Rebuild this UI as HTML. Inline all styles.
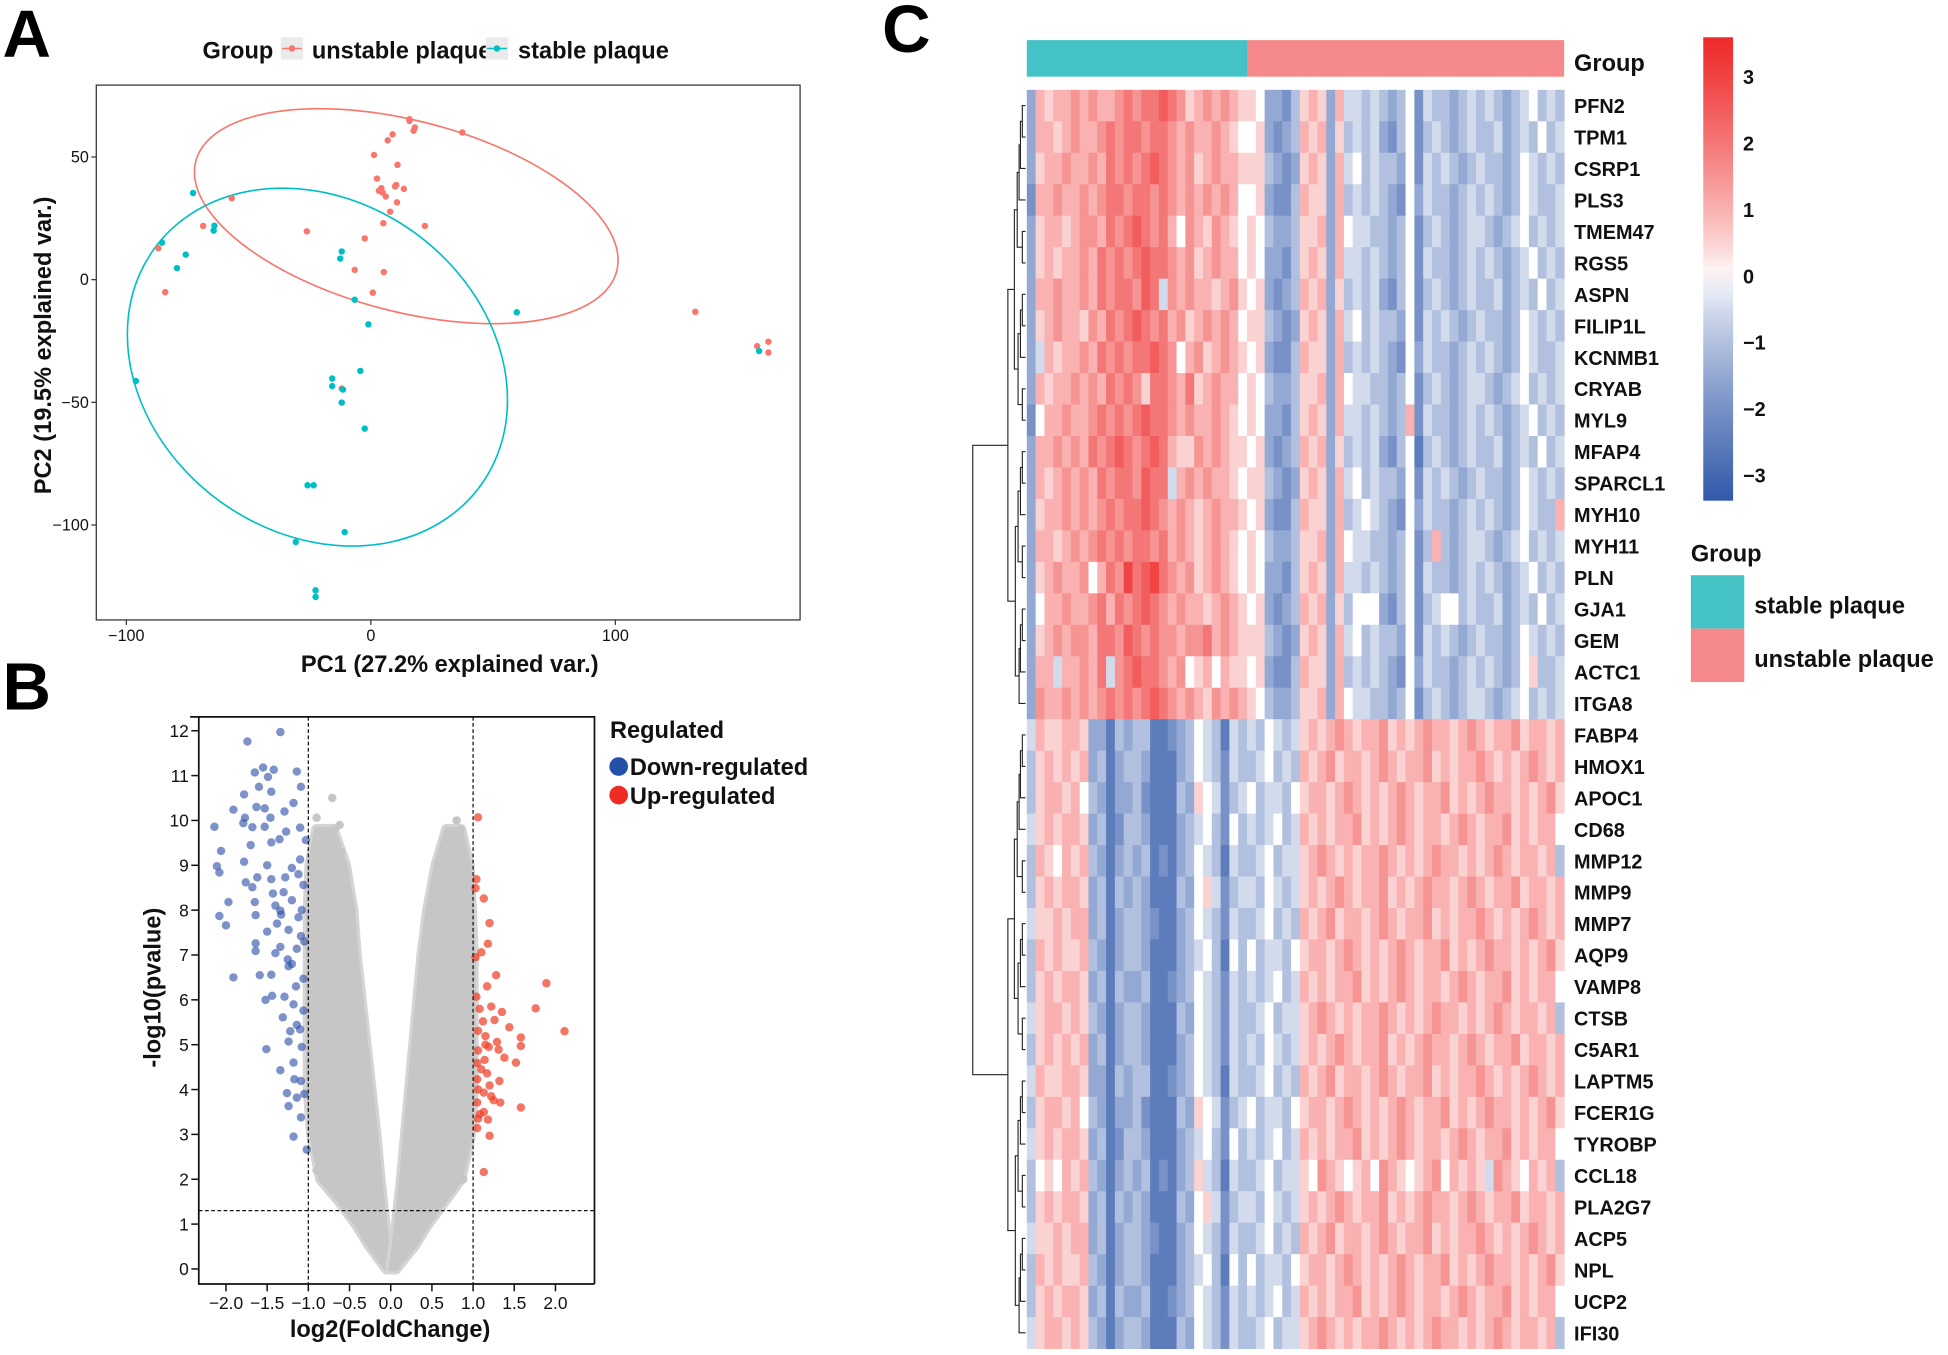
<!DOCTYPE html>
<html><head><meta charset="utf-8">
<style>
html,body{margin:0;padding:0;background:#fff;}
body{width:1948px;height:1349px;overflow:hidden;position:relative;}
#wrap{position:absolute;left:0;top:0;width:1568px;height:1086px;transform:scale(1.24235);transform-origin:0 0;}
svg text{font-family:"Liberation Sans",Arial,sans-serif;}
.nar{font-family:"Liberation Sans Narrow","Liberation Sans",Arial,sans-serif;}
</style></head>
<body>
<div id="wrap">
<svg id="fig" width="1568" height="1086" viewBox="0 0 1568 1086" xmlns="http://www.w3.org/2000/svg">
<text x="2" y="46" font-size="54" font-weight="bold">A</text>
<text x="2" y="571" font-size="54" font-weight="bold">B</text>
<text x="710" y="42" font-size="54" font-weight="bold">C</text>
<g id="pca"></g>
<g id="volc"></g>
<g id="heat"></g>
</svg>
</div>
<script>
// ---------- Panel A data ----------
const unstableX=[15.8,15.8,18,17.5,37.4,8.9,6.9,1.3,10.9,2.5,10.4,9.9,4.3,3.3,4.8,13.5,6.1,10.7,7.9,5.1,22.1,-56.9,-68.6,-26.2,-2.5,-86.9,-6.6,5.3,-84.1,0.8,132.7,158,162.6,162.6,-11.9];
const unstableY=[65.4,64.7,62,60.7,60,59.2,56.8,50.8,46.8,41.2,38.6,38,37.3,36.2,35.5,37,33.9,31.5,27.7,23,21.9,33.2,21.9,19.7,16.8,12.8,4,3.1,-5.1,-5.3,-13.1,-27.1,-25.3,-29.7,-44.4];
const stableX=[-72.7,-64,-64.3,-85.4,-75.7,-79.3,-11.9,-12.5,-6.6,59.7,-1,-4.3,-15.8,-15.8,-11.4,-11.9,-2.5,-96.1,-25.9,-23.4,-10.7,-30.7,-22.6,-22.6,158.8];
const stableY=[35.3,22,20,15.1,10.2,4.7,11.5,8.6,-8.2,-13.3,-18.2,-37.2,-40.3,-43.4,-44.8,-50.1,-60.7,-41.3,-83.8,-83.8,-102.9,-106.9,-126.6,-129.3,-29.1];
const pcaXTicks=[-100,0,100];
const pcaYTicks=[50,0,-50,-100];
// ---------- Panel B data ----------
const downX=[-1.34,-1.74,-1.55,-1.65,-1.42,-1.14,-1.49,-1.6,-1.09,-1.78,-1.45,-1.18,-1.63,-1.53,-1.91,-1.29,-1.46,-1.77,-2.14,-1.79,-1.68,-1.53,-1.27,-1.1,-1.03,-1.45,-1.7,-2.06,-1.35,-1.78,-1.5,-2.11,-2.08,-1.62,-1.45,-1.28,-1.2,-1.1,-1.06,-1.76,-1.68,-1.97,-1.43,-1.2,-1.65,-1.34,-1.12,-2.08,-2.0,-1.64,-1.5,-1.24,-1.09,-1.64,-1.34,-1.14,-1.64,-1.4,-1.91,-1.59,-1.45,-1.24,-1.06,-1.44,-1.52,-1.29,-1.18,-1.06,-1.31,-1.14,-1.22,-1.1,-1.24,-1.51,-1.08,-1.18,-1.34,-1.09,-1.17,-1.26,-1.14,-1.05,-1.24,-1.09,-1.18,-1.02,-1.3,-1.38,-1.12,-1.25,-1.4,-1.05,-1.15,-1.33,-1.2,-1.08];
const downY=[11.97,11.76,11.18,11.07,11.13,11.09,10.97,10.75,10.75,10.58,10.64,10.39,10.3,10.27,10.24,10.2,10.06,10.06,9.86,9.94,9.85,9.86,9.75,9.84,9.56,9.51,9.45,9.32,9.58,9.08,9.0,8.98,8.84,8.73,8.69,8.73,8.94,9.13,8.56,8.62,8.51,8.18,8.37,8.22,8.18,7.99,7.84,7.87,7.66,7.89,7.52,7.56,7.42,7.26,7.18,7.14,7.09,7.04,6.5,6.55,6.56,6.75,6.47,6.09,6.0,6.07,5.9,5.76,5.61,5.44,5.3,5.34,5.07,4.9,4.95,4.6,4.43,4.19,4.23,3.92,3.82,3.9,3.63,3.38,2.95,2.66,8.4,7.7,8.8,6.9,8.1,7.3,6.3,7.9,6.8,8.0];
const upX=[1.06,1.04,1.03,1.13,1.2,1.18,1.1,1.03,1.28,1.17,1.89,1.04,1.08,1.22,1.35,1.76,1.26,1.12,1.44,1.06,1.15,1.29,1.58,2.11,1.58,1.19,1.06,1.31,1.38,1.14,1.05,1.52,1.17,1.05,1.32,1.2,1.06,1.13,1.25,1.05,1.33,1.58,1.13,1.06,1.18,1.05,1.2,1.13,1.1,1.22,1.08,1.15];
const upY=[10.07,8.69,8.49,8.26,7.71,7.25,7.06,6.95,6.55,6.3,6.37,6.07,5.8,5.85,5.73,5.81,5.55,5.52,5.39,5.31,5.19,5.06,5.16,5.3,4.97,4.95,4.87,4.89,4.71,4.66,4.59,4.6,4.36,4.23,4.19,4.09,4.0,3.93,3.76,3.71,3.71,3.6,3.5,3.35,3.33,3.14,2.97,2.16,4.45,3.85,3.45,5.0];
const grayX=[-0.71,-0.9,0.8,0.85,0.7,-0.67,-0.8,-0.6,0.75,0.9,-0.55,0.6,-0.85,0.95,-0.5,0.55,-0.95,0.92,-0.45,0.5,-0.62,0.72,-0.9,0.88,-0.58,0.62];
const grayY=[10.5,10.06,10.0,9.8,9.7,9.82,9.5,9.3,9.2,9.0,8.8,8.5,8.9,8.3,8.0,7.6,9.1,7.9,7.2,6.8,9.9,9.4,2.2,2.0,1.6,1.5];
// envelope of the dense grey cloud (log2FC at given -log10 p)
const envY=[0,0.5,1,1.5,2,3,4,5,6,7,8,9,9.8];
const leftOuter=[-0.05,-0.25,-0.42,-0.62,-0.85,-0.96,-1.0,-1.0,-1.0,-1.0,-1.0,-0.98,-0.9];
const leftInner=[0,-0.04,-0.07,-0.1,-0.13,-0.18,-0.24,-0.3,-0.36,-0.42,-0.46,-0.55,-0.7];
const rightOuter=[0.06,0.28,0.45,0.65,0.85,0.97,1.0,1.0,1.0,1.0,0.98,0.95,0.85];
const rightInner=[0,0.04,0.07,0.1,0.13,0.18,0.23,0.28,0.33,0.38,0.45,0.55,0.68];
const volcXTicks=[-2.0,-1.5,-1.0,-0.5,0.0,0.5,1.0,1.5,2.0];
const volcXTickLabels=["\u22122.0","\u22121.5","\u22121.0","\u22120.5","0.0","0.5","1.0","1.5","2.0"];
const volcYTicks=[0,1,2,3,4,5,6,7,8,9,10,11,12];
// ---------- Panel C data ----------
const genes=["PFN2","TPM1","CSRP1","PLS3","TMEM47","RGS5","ASPN","FILIP1L","KCNMB1","CRYAB","MYL9","MFAP4","SPARCL1","MYH10","MYH11","PLN","GJA1","GEM","ACTC1","ITGA8","FABP4","HMOX1","APOC1","CD68","MMP12","MMP9","MMP7","AQP9","VAMP8","CTSB","C5AR1","LAPTM5","FCER1G","TYROBP","CCL18","PLA2G7","ACP5","NPL","UCP2","IFI30"];
const nStable=25, nUnstable=36;
// level codes: A=-3 ... G=0 ... M=+3 (steps of 0.5)
const rowsStable=[
"EIHIIJIJIIJKJKKLKJHIJIJIH","EIIHIJIIJKJKKJKKJIJIIJIHG","EHIIJIIJIKJKJKLKJIJHIJIIH","DIIJIIJIJKKJKKJKJIJIJIJIG",
"EHIIHIJJIKJKLKJKIGJIHJIHG","EHIHIIJIKJKJKLKKJIJHIJIIG","EIIJIIJIKJKKJLKFJIJIIHIJH","EHIJIIHJIKJKLKJKIJHIJIJIG",
"EFIHIIJIKJKJKKLKJGIJHIJIH","EIHIIJIJIKJKJHKKJIKHIJIIG","DGIIJIIJKJKJKLKKJIJIIJIHG","EIIJIJIKJKLKJKLKIHHJIJIHH",
"EIHIJIJIKJKKJLKKFIJIJIIHG","EHIIJIJIJKJKKLKJIJIHIJIIH","EIIHIJIJKJKJKKJKIJIHIJIHG","EHIJIIJGIKJMKLMKJIJHIJIHG",
"EGIIJIIJKIKJKLKJIJIIHIJIH","EHIJIJJIKKJLKJKJJIJJKIJIH","EIIFIIJIKFJKLKKJIJGHIGIHH","EJIIJIJIJKJKJKLKJIJIHJIJI",
"FIHHIIHDDBEDEEBBCDEGFEBFE","EHIHIHIDEBDEEDBBBDEGFECFE","EHIIHIGEDBDDECBBBEDHGFCEF","FHIHIIHDEBCEEDBBBDEFGECGE",
"EIHGIHIEDBDEDEBCBDEGFEBFE","EHIHIIHDEBEDEDBBBEDGHFCEF","FHHIHIIDEBDEEDCBBDEGFECFE","EIHIHHIEDBDEEDBBBDEFGEBGE",
"EHIHIIHDEBEDDEBBCDEGFECFE","FHIIHIHEDBDEEDBBBEDGFECFE","EHIHIHIDEBDEEDBBBDEGFECFE","FIHHIIHDDBEDEEBBCDEGFEBFE",
"EHIIHIGEDBDDECBBBEDHGFCEF","FHIHIIHDEBCEEDBBBDEFGECGE","EGHGIHIEDBDEDEBCBDEHFEBFE","EHIHIIHDEBEDEDBBBEDGHFCEF",
"FHHIHIIDEBDEEDCBBDEGFECFE","EIHIHHIEDBDEEDBBBDEFGEBGE","EHIHIIHDEBEDDEBBCDEGFECFE","FHIIHIHEDBDEEDBBBEDGFECFE"];
const rowsUnstable=[
"HGDDCEHIHDIFFEFEDEGCFEEDEFEFEDEFGEFE","GHDCDEIHIDHEFEFDCEGCEFEDEFEEFDEFEGEF","HHEDCDHIHDIFGEFEEDGCFEFEDEFEEDEGFEFE","GHDCCEIHHDIEFEFEDCGDFEEDEFEFEDEGFEEF",
"HGEDDEHHIDIGFFEEDEGCEFEDEFFEDEFGEFEF","HGDDCEHIHDIFFEFEDEGCFEEDEFEFEDEFGEFE","GHDCDEIHIDHEFEFDCEGCEFEDEFEEFDEFEGEF","HHEDCDHIHDIFGEFEEDGCFEFEDEFEEDEGFEFE",
"GHDCCEIHHDIEFEFEDCGDFEEDEFEFEDEGFEEF","HGEDDEHHIDIGFFEEDEGCEFEDEFFEDEFGEFEF","HGDDCEHIHDIFFEFEDEICFEEDEFEFEDEFGEFE","GHDCDEIHIDHEFEFDCEGBEFEDEFEEFDEFEGEF",
"HHEDCDHIHDIFGEFEEDGCFEFEDEFEEDEGFEFE","GHDCCEIHHDIEFGFEDCGDFEEDEFEFEDEGFEEI","HGEDDEHHIDIGFFEEDEGCEIEDEFFEDEFGEFEF","HGDDCEHIHDIFFEFEDEGCFEEDEFEFEDEFGEFE",
"GHDCDEIHIDHEGGGDCEGCEFGGEFEEFDEFEGEF","HHEDCDHIHDIFGEFEEDGCFEFEDEFEEDEGFEFE","GHDCCEIHHDIEFEFEDCGDFEEDEFEFEDEGHEEF","HGEDDEHHIDIGFFEEDEGCEFEDEFFEDEFGEFEF",
"FEGFEFHIHIJIHIIJHIHIJIIHIJIHIIJHIIHI","EFGEFEIHIJHIIHIJIHIIJHIHIIJIHIHIJIHI","GEFFEGHIIHIJIHIHIJIHIIJHIHIJIIHIHIJH","FEFGEFIHIHIIJHIHIJIHIIHIJIHIIJHIHIIG",
"EFGEFFHIJIHIHIIJIHIHIJIIHIHIJIHIIHIE","FEGFEFHIHIJIHIIJHIHIJIIHIJIHIIJHIIHI","EFGEFEIHIJHIIHIJIHIIJHIHIIJIHIHIJIHI","GEFFEGHIIHIJIHIHIJIHIIJHIHIJIIHIHIJH",
"FEFGEFIHIHIIJHIHIJIHIIHIJIHIIJHIHIIG","EFGEFFHIJIHIHIIJIHIHIJIIHIHIJIHIIHIE","FEGFEFHIHIJIHIIJHIHIJIIHIJIHIIJHIIHI","EFGEFEIHIJHIIHIJIHIIJHIHIIJIHIHIJIHI",
"GEFFEGHIIHIJIHIHIJIHIIJHIHIJIIHIHIJH","FEFGEFIHIHIIJHIHIJIHIIHIJIHIIJHIHIIG","EFGEFFHGJIHGHIGJIHGHIJGIHIHFJIHGIHIE","FEGFEFHIHIJIHIIJHIHIJIIHIJIHIIJHIIHI",
"EFGEFEIHIJHIIHIJIHIIJHIHIIJIHIHIJIHI","GEFFEGHIIHIJIHIHIJIHIIJHIHIJIIHIHIJH","FEFGEFIHIHIIJHIHIJIHIIHIJIHIIJHIHIIG","EFGEFFHIJIHIHIIJIHIHIJIIHIHIJIHIIHIE"];
const cbTicks=[3,2,1,0,-1,-2,-3];
const cbTickLabels=["3","2","1","0","\u22121","\u22122","\u22123"];

const NS="http://www.w3.org/2000/svg";
function mk(tag,attrs,parent){const e=document.createElementNS(NS,tag);for(const k in attrs)e.setAttribute(k,attrs[k]);parent.appendChild(e);return e;}

// ===== Panel A =====
(function(){
const g=document.getElementById('pca');
const xA=v=>298.5+v*1.968, yA=v=>225.1-v*1.975;
const L=77.5,R=644,T=68.5,B=499;
let r=mk('rect',{x:L,y:T,width:R-L,height:B-T,fill:'#fff',stroke:'#333','stroke-width':1},g);

pcaXTicks.forEach(t=>{let l=mk('line',{x1:xA(t),x2:xA(t),y1:B,y2:B+4,stroke:'#333'},g);

let tx=mk('text',{x:xA(t),y:B+17,'font-size':13,'text-anchor':'middle',class:'nar',fill:'#111'},g);tx.textContent=t===0?'0':(t<0?'\u2212'+(-t):t);
});
pcaYTicks.forEach(t=>{let l=mk('line',{x1:L-4,x2:L,y1:yA(t),y2:yA(t),stroke:'#333'},g);

let tx=mk('text',{x:L-6,y:yA(t)+4.5,'font-size':13,'text-anchor':'end',class:'nar',fill:'#111'},g);tx.textContent=t===0?'0':(t<0?'\u2212'+(-t):t);
});
let e1=mk('ellipse',{cx:0,cy:0,rx:1,ry:1,fill:'none',stroke:'#F8766D','stroke-width':1.3,'vector-effect':'non-scaling-stroke',transform:'matrix(170.5,35.5,0,78.9,327,174)'},g);

let e2=mk('ellipse',{cx:0,cy:0,rx:1,ry:1,fill:'none',stroke:'#00BFC4','stroke-width':1.3,'vector-effect':'non-scaling-stroke',transform:'matrix(153,26.4,0,141.6,255.5,295.5)'},g);

unstableX.forEach((v,i)=>{let c=mk('circle',{cx:xA(v),cy:yA(unstableY[i]),r:2.6,fill:'#F8766D'},g);
});
stableX.forEach((v,i)=>{let c=mk('circle',{cx:xA(v),cy:yA(stableY[i]),r:2.6,fill:'#00BFC4'},g);
});
let xt=mk('text',{x:362,y:541,'font-size':19,'font-weight':'bold','text-anchor':'middle',class:'nar',fill:'#111'},g);xt.textContent='PC1 (27.2% explained var.)';

let yt=mk('text',{x:0,y:0,'font-size':19,'font-weight':'bold','text-anchor':'middle',fill:'#111',transform:'translate(41,278) rotate(-90)'},g);yt.textContent='PC2 (19.5% explained var.)';

let lt=mk('text',{x:163,y:47,'font-size':19,'font-weight':'bold',class:'nar',fill:'#111'},g);lt.textContent='Group';

[[226,'#F8766D','unstable plaque',251,'legend-unstable'],[391,'#00BFC4','stable plaque',417,'legend-stable']].forEach(d=>{
let k=mk('rect',{x:d[0],y:30,width:18,height:18,fill:'#ebebeb'},g);
mk('line',{x1:d[0]+1,x2:d[0]+17,y1:39,y2:39,stroke:d[1],'stroke-width':1.2},g);
mk('circle',{cx:d[0]+9,cy:39,r:2.6,fill:d[1]},g);
let t=mk('text',{x:d[3],y:47,'font-size':19,'font-weight':'bold',class:'nar',fill:'#111'},g);t.textContent=d[2];
});
})();

// ===== Panel B =====
(function(){
const g=document.getElementById('volc');
const xB=v=>314.5+v*66.3, yB=v=>1021.4-v*36.1;
const L=160,R=478.5,T=577,B=1033.5;
function arm(outer,inner,name){let d='';envY.forEach((y,i)=>{d+=(i?'L':'M')+xB(outer[i])+','+yB(y);});
for(let i=envY.length-1;i>=0;i--)d+='L'+xB(inner[i])+','+yB(envY[i]);d+='Z';
let p0=mk('path',{d:d,fill:'none',stroke:'#d4d4d4','stroke-width':9,'stroke-linejoin':'round'},g);

let p=mk('path',{d:d,fill:'#c6c6c6',stroke:'#c6c6c6','stroke-width':4,'stroke-linejoin':'round'},g);
}
arm(leftOuter,leftInner,'nonsig-cloud-left');arm(rightOuter,rightInner,'nonsig-cloud-right');
grayX.forEach((v,i)=>{let c=mk('circle',{cx:xB(v),cy:yB(grayY[i]),r:3.4,fill:'#c6c6c6'},g);
});
downX.forEach((v,i)=>{let c=mk('circle',{cx:xB(v),cy:yB(downY[i]),r:3.4,fill:'#2E4FAA','fill-opacity':0.62},g);
});
upX.forEach((v,i)=>{let c=mk('circle',{cx:xB(v),cy:yB(upY[i]),r:3.4,fill:'#EE3A22','fill-opacity':0.7},g);
});
[[-1,'fc-threshold-low'],[1,'fc-threshold-high']].forEach(d=>{let l=mk('line',{x1:xB(d[0]),x2:xB(d[0]),y1:T,y2:B,stroke:'#111','stroke-dasharray':'3,2','stroke-width':1},g);
});
let hl=mk('line',{x1:L,x2:R,y1:yB(1.3),y2:yB(1.3),stroke:'#111','stroke-dasharray':'3,2','stroke-width':1},g);

let fr=mk('path',{d:`M${L-7},${T}H${R}V${B}M${L},${T}V${B}H${R}`,fill:'none',stroke:'#111','stroke-width':1.4},g);

volcYTicks.forEach(t=>{let l=mk('line',{x1:L-6,x2:L,y1:yB(t),y2:yB(t),stroke:'#111','stroke-width':1.2},g);

let tx=mk('text',{x:L-8,y:yB(t)+5,'font-size':14,'text-anchor':'end',class:'nar',fill:'#111'},g);tx.textContent=t;
});
volcXTicks.forEach((t,i)=>{let l=mk('line',{x1:xB(t),x2:xB(t),y1:B,y2:B+6,stroke:'#111','stroke-width':1.2},g);

let tx=mk('text',{x:xB(t),y:B+20,'font-size':14,'text-anchor':'middle',class:'nar',fill:'#111'},g);tx.textContent=volcXTickLabels[i];
});
let xt=mk('text',{x:314,y:1076,'font-size':19,'font-weight':'bold','text-anchor':'middle',class:'nar',fill:'#111'},g);xt.textContent='log2(FoldChange)';

let yt=mk('text',{x:0,y:0,'font-size':19,'font-weight':'bold','text-anchor':'middle',fill:'#111',transform:'translate(129,795) rotate(-90)'},g);yt.textContent='-log10(pvalue)';

let lt=mk('text',{x:491,y:594,'font-size':19,'font-weight':'bold',class:'nar',fill:'#111'},g);lt.textContent='Regulated';

[[617,'#2350A8','Down-regulated','legend-down'],[640,'#EE2C24','Up-regulated','legend-up']].forEach(d=>{
let c=mk('circle',{cx:498,cy:d[0],r:7.5,fill:d[1]},g);
let t=mk('text',{x:507,y:d[0]+7,'font-size':19,'font-weight':'bold',class:'nar',fill:'#111'},g);t.textContent=d[2];
});
})();

// ===== Panel C =====
(function(){
const g=document.getElementById('heat');
const X0=826.5, W=432.5, Y0=72.3, RH=25.33;
const nCol=nStable+nUnstable, CW=W/nCol;
const blue=[43,84,167], red=[238,42,42];
function col(v){const t=Math.min(1,Math.abs(v)/3.5), s=Math.pow(t,0.8), c=v<0?blue:red;
return 'rgb('+c.map(k=>Math.round(255+(k-255)*s)).join(',')+')';}
function lvl(ch){const k=ch?ch.charCodeAt(0)-71:0;return isNaN(k)?0:k*0.5;}
let gb1=mk('rect',{x:X0,y:32.3,width:CW*nStable,height:29.4,fill:'#45C2C5'},g);

let gb2=mk('rect',{x:X0+CW*nStable,y:32.3,width:CW*nUnstable,height:29.4,fill:'#F4888A'},g);

let gl=mk('text',{x:1267,y:57,'font-size':19,'font-weight':'bold',fill:'#111'},g);gl.textContent='Group';

genes.forEach((gn,r)=>{
const s=(rowsStable[r]||'').padEnd(nStable,'G').slice(0,nStable)+(rowsUnstable[r]||'').padEnd(nUnstable,'G').slice(0,nUnstable);
for(let c=0;c<nCol;c++){let v=lvl(s[c]);if(c===0&&r<20)v-=0.5;
let rc=mk('rect',{x:X0+c*CW,y:Y0+r*RH,width:CW+0.4,height:RH+0.4,fill:col(v)},g);
}
let t=mk('text',{x:1267,y:Y0+r*RH+RH/2+6,'font-size':16,'font-weight':'bold',fill:'#111'},g);t.textContent=gn;
});
const dg=mk('g',{stroke:'#222','stroke-width':0.9,fill:'none'},g);

function tree(lo,hi){if(lo===hi)return {x:X0-1,y:Y0+lo*RH+RH/2};
const m=Math.floor((lo+hi+((lo*7+hi*3)%2))/2);const a=tree(lo,Math.min(m,hi-1)),b=tree(Math.min(m,hi-1)+1,hi);
const size=hi-lo+1;const x=X0-1-2.6*Math.log2(size)-(size>12?3:0);
mk('path',{d:`M${a.x},${a.y}H${x}V${b.y}H${b.x}`},dg);return {x:x,y:(a.y+b.y)/2};}
const t1=tree(0,19),t2=tree(20,39);const rx=783;
mk('path',{d:`M${t1.x},${t1.y}H${rx}V${t2.y}H${t2.x}`},dg);
const defs=mk('defs',{},g);const lg=mk('linearGradient',{id:'cbg',x1:0,y1:0,x2:0,y2:1},defs);
for(let i=0;i<=20;i++){const v=3.59-(3.59+3.38)*i/20;mk('stop',{offset:i/20,'stop-color':col(v)},lg);}
let cb=mk('rect',{x:1371,y:30,width:24,height:373,fill:'url(#cbg)'},g);

cbTicks.forEach((v,i)=>{let t=mk('text',{x:1403,y:222-v*53.5+6,'font-size':16,'font-weight':'bold',fill:'#111'},g);t.textContent=cbTickLabels[i];
});
let glt=mk('text',{x:1361,y:452,'font-size':19,'font-weight':'bold',fill:'#111'},g);glt.textContent='Group';

[[463,'#45C2C5','stable plaque','group-legend-stable'],[506,'#F4888A','unstable plaque','group-legend-unstable']].forEach(d=>{
let k=mk('rect',{x:1361,y:d[0],width:43,height:43,fill:d[1]},g);
let t=mk('text',{x:1412,y:d[0]+31,'font-size':19,'font-weight':'bold',fill:'#111'},g);t.textContent=d[2];
});
})();
</script>
</body></html>
